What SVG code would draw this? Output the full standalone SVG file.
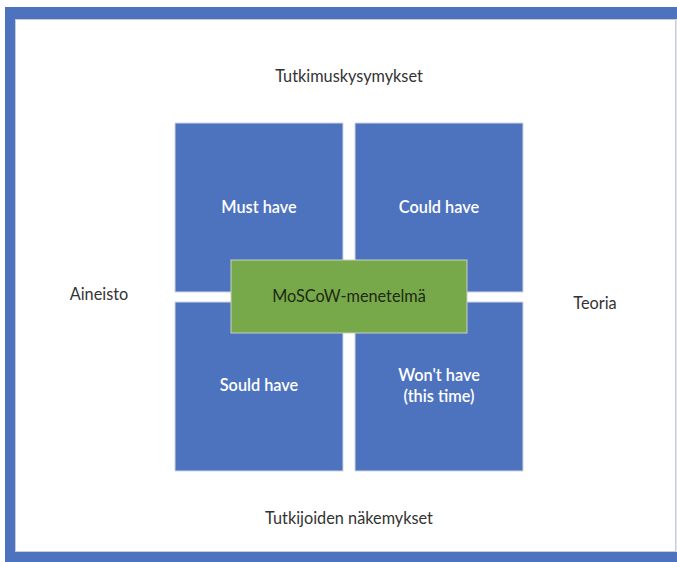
<svg xmlns="http://www.w3.org/2000/svg" width="677" height="562" viewBox="0 0 677 562">
<style>
.t{font-family:Lato,"Open Sans",sans-serif;font-size:16.3px;text-anchor:middle;fill:#333}
.w{font-family:Lato,"Open Sans",sans-serif;font-size:16.3px;text-anchor:middle;fill:#fff;font-weight:600}
.box{fill:#4E73BE;stroke:#D0D6E4;stroke-width:1}
</style>
<rect width="677" height="562" fill="#fff"/>
<g id="frame">
<rect x="5" y="7" width="700" height="555" fill="#4E73BE"/>
<rect x="15.5" y="19.5" width="660" height="532" fill="#fff" stroke="#C8CCD4" stroke-width="1"/>
<rect x="676" y="19" width="1" height="533" fill="#E4E6EA"/>
</g>
<g id="labels">
<text class="t" x="349" y="82">Tutkimuskysymykset</text>
<text class="t" x="99" y="300">Aineisto</text>
<text class="t" x="595" y="309">Teoria</text>
<text class="t" x="349" y="524">Tutkijoiden näkemykset</text>
</g>
<g id="must"><rect class="box" x="175" y="123" width="168" height="169"/><text class="w" x="259" y="213">Must have</text></g>
<g id="could"><rect class="box" x="355" y="123" width="168" height="169"/><text class="w" x="439" y="213">Could have</text></g>
<g id="should"><rect class="box" x="175" y="302" width="168" height="169"/><text class="w" x="259" y="391">Sould have</text></g>
<g id="wont"><rect class="box" x="355" y="302" width="168" height="169"/><text class="w" x="439" y="381">Won't have</text><text class="w" x="439" y="402">(this time)</text></g>
<g id="moscow"><rect x="231" y="260" width="236" height="73" fill="#77A94A" stroke="#C9CFC4" stroke-width="1"/><text class="t" x="349" y="302" style="fill:#1e2a14">MoSCoW-menetelmä</text></g>
<g id="connectors"></g>
</svg>
